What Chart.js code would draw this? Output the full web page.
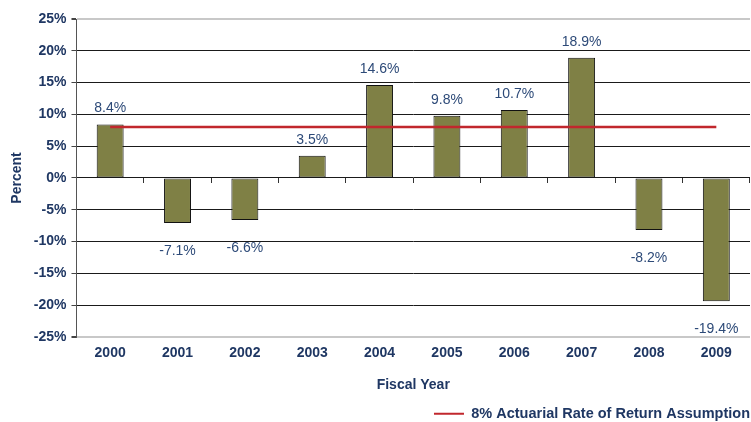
<!DOCTYPE html>
<html lang="en">
<head>
    <meta charset="UTF-8">
    <title>Fiscal Year Returns</title>
    <script src="https://cdn.jsdelivr.net/npm/chart.js"></script>
    <style>
        body { margin: 0; background: #fff; }
        #wrap { width: 751px; height: 422px; }
    </style>
</head>
<body>
    <div id="wrap"><canvas id="myChart"></canvas></div>
    <script>
        const years = ['2000', '2001', '2002', '2003', '2004', '2005', '2006', '2007', '2008', '2009'];
        const returns = [8.4, -7.1, -6.6, 3.5, 14.6, 9.8, 10.7, 18.9, -8.2, -19.4];
        const assumption = [8, 8, 8, 8, 8, 8, 8, 8, 8, 8];
        const assumptionLabel = '8% Actuarial Rate of Return Assumption';

        const navy = '#1f3763';
        const fontFam = '"Liberation Sans", Arial, sans-serif';

        // value labels above / below the bars
        const barLabels = {
            id: 'barLabels',
            afterDatasetsDraw(chart) {
                const ctx = chart.ctx;
                const meta = chart.getDatasetMeta(0);
                ctx.save();
                ctx.font = '14px ' + fontFam;
                ctx.fillStyle = '#2d4a78';
                ctx.textAlign = 'center';
                ctx.textBaseline = 'middle';
                meta.data.forEach((bar, i) => {
                    const v = returns[i];
                    const y = v >= 0 ? bar.y - 16 : bar.y + 28;
                    ctx.fillText(v.toFixed(1) + '%', bar.x, y);
                });
                ctx.restore();
            }
        };

        const ctx = document.getElementById('myChart').getContext('2d');
        new Chart(ctx, {
            data: {
                labels: years,
                datasets: [{
                    type: 'bar',
                    label: 'Return',
                    data: returns,
                    backgroundColor: '#7f8045',
                    borderColor: '#111',
                    borderWidth: 1,
                    borderSkipped: false,
                    categoryPercentage: 1,
                    barPercentage: 0.4,
                    order: 2
                }, {
                    type: 'line',
                    label: assumptionLabel,
                    data: assumption,
                    borderColor: '#c1272d',
                    backgroundColor: '#c1272d',
                    borderWidth: 2.5,
                    pointRadius: 0,
                    order: 1
                }]
            },
            options: {
                responsive: true,
                maintainAspectRatio: false,
                animation: false,
                layout: { padding: { left: 9, right: 1, top: 19, bottom: -9 } },
                plugins: {
                    legend: {
                        position: 'bottom',
                        align: 'end',
                        labels: {
                            filter: item => {
                                item.lineWidth = 0;
                                return item.datasetIndex === 1;
                            },
                            boxWidth: 30,
                            boxHeight: 2,
                            padding: 0,
                            color: navy,
                            font: { family: fontFam, size: 14.5, weight: 'bold' }
                        }
                    },
                    tooltip: { enabled: false }
                },
                scales: {
                    x: {
                        offset: true,
                        grid: { display: false, tickLength: 0 },
                        border: { display: false },
                        ticks: {
                            color: navy,
                            padding: 8,
                            font: { family: fontFam, size: 14, weight: 'bold' }
                        },
                        title: {
                            display: true,
                            text: 'Fiscal Year',
                            color: navy,
                            padding: { top: 7, bottom: 13 },
                            font: { family: fontFam, size: 14, weight: 'bold' }
                        }
                    },
                    x2: {
                        type: 'category',
                        labels: years,
                        position: { y: 0 },
                        offset: true,
                        afterFit: s => { s.height = 0; },
                        grid: { offset: true, drawOnChartArea: false, tickLength: 5, color: '#333' },
                        border: { display: false },
                        ticks: { display: false }
                    },
                    y: {
                        min: -25,
                        max: 25,
                        ticks: {
                            stepSize: 5,
                            callback: v => v + '%',
                            color: navy,
                            padding: 5,
                            font: { family: fontFam, size: 14, weight: 'bold' }
                        },
                        grid: {
                            color: c => (c.tick.value === 25 || c.tick.value === -25) ? '#c8c8c8' : '#1a1a1a',
                            lineWidth: c => (c.tick.value === 25 || c.tick.value === -25) ? 2 : 1,
                            tickLength: 5,
                            tickColor: '#444'
                        },
                        border: { color: '#555', width: 1 },
                        title: {
                            display: true,
                            text: 'Percent',
                            color: navy,
                            padding: { top: 0, bottom: 3 },
                            font: { family: fontFam, size: 14, weight: 'bold' }
                        }
                    }
                }
            },
            plugins: [barLabels]
        });
    </script>
</body>
</html>
